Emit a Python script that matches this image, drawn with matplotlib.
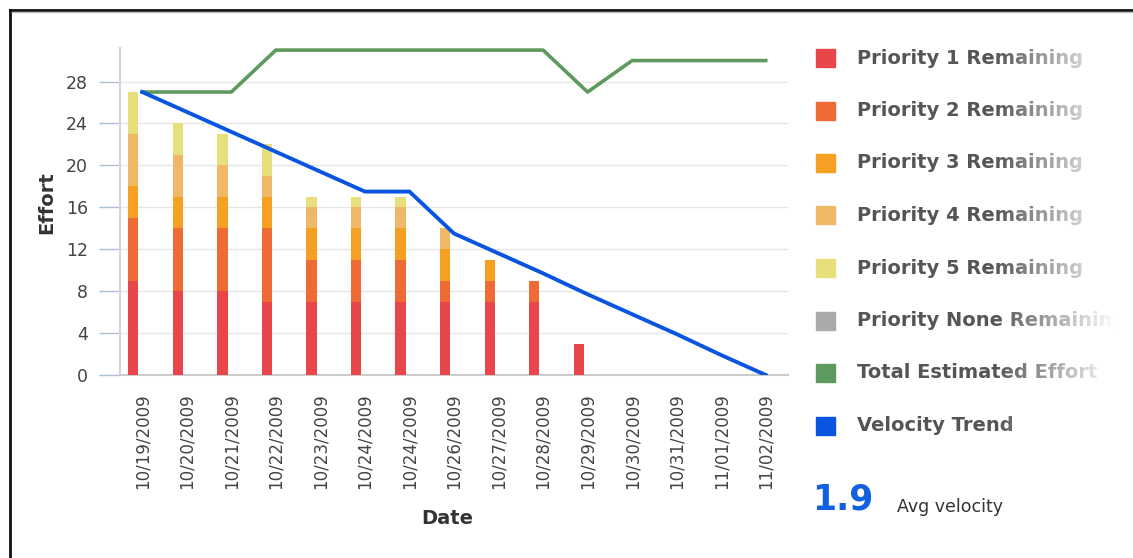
import numpy as np
import matplotlib
matplotlib.use("Agg")
import matplotlib.pyplot as plt
from matplotlib.patches import Rectangle
from matplotlib.lines import Line2D

W, H = 1133, 558

dates = ["10/19/2009", "10/20/2009", "10/21/2009", "10/22/2009", "10/23/2009",
         "10/24/2009", "10/24/2009", "10/26/2009", "10/27/2009", "10/28/2009",
         "10/29/2009", "10/30/2009", "10/31/2009", "11/01/2009", "11/02/2009"]

p1 = [9, 8, 8, 7, 7, 7, 7, 7, 7, 7, 3, 0, 0, 0, 0]
p2 = [6, 6, 6, 7, 4, 4, 4, 2, 2, 2, 0, 0, 0, 0, 0]
p3 = [3, 3, 3, 3, 3, 3, 3, 3, 2, 0, 0, 0, 0, 0, 0]
p4 = [5, 4, 3, 2, 2, 2, 2, 2, 0, 0, 0, 0, 0, 0, 0]
p5 = [4, 3, 3, 3, 1, 1, 1, 0, 0, 0, 0, 0, 0, 0, 0]
p_none = [0] * 15

total_effort = [27, 27, 27, 31, 31, 31, 31, 31, 31, 31, 27, 30, 30, 30, 30]
velocity = [27, 25.1, 23.2, 21.3, 19.4, 17.5, 17.5, 13.5, 11.6, 9.7, 7.7, 5.8, 3.9, 1.9, 0]

legend_labels = ["Priority 1 Remaining", "Priority 2 Remaining", "Priority 3 Remaining",
                 "Priority 4 Remaining", "Priority 5 Remaining", "Priority None Remaining",
                 "Total Estimated Effort", "Velocity Trend"]
colors = ["#e8464b", "#ef6b35", "#f5a023", "#eeb867", "#e6df7c", "#aaaaaa",
          "#5e9a5e", "#0a55e0"]
avg_velocity = "1.9"

fig = plt.figure(figsize=(W / 100, H / 100), dpi=100)
ax = fig.add_axes([120 / W, 1 - 375 / H, 668 / W, 327 / H])

x = np.arange(len(dates))
bottom = np.zeros(len(dates))
for vals, c in zip([p1, p2, p3, p4, p5, p_none], colors[:6]):
    ax.bar(x - 0.2, vals, width=0.23, bottom=bottom, color=c, zorder=3)
    bottom += np.array(vals)

ax.plot(x, total_effort, color=colors[6], lw=2.6, zorder=4)
ax.plot(x, velocity, color=colors[7], lw=2.8, zorder=5)

ax.set_xlim(-0.5, len(dates) - 0.5)
ax.set_ylim(0, 31.2)
ax.set_yticks(range(0, 29, 4))
ax.grid(axis="y", color="#e6e6e6", lw=1, zorder=0)

ax.set_xticks(x)
ax.set_xticklabels(dates, rotation=90, fontsize=12, color="#444444")
ax.set_xticks(np.arange(-0.5, len(dates), 1), minor=True)
ax.tick_params(axis="x", which="major", length=0, pad=13)
ax.tick_params(axis="x", which="minor", length=4, width=2, color="white", direction="inout")
ax.tick_params(axis="y", length=15, width=1, color="#a9bfdc", pad=8,
               labelsize=12.5, labelcolor="#444444")

for s in ["top", "right"]:
    ax.spines[s].set_visible(False)
ax.spines["left"].set_color("#d5d5d5")
ax.spines["bottom"].set_color("#cccccc")
ax.spines["left"].set_linewidth(1.5)
ax.spines["bottom"].set_linewidth(1.5)

fig.text(47 / W, 1 - 203 / H, "Effort", rotation=90, fontsize=14, fontweight="bold",
         color="#333333", ha="center", va="center")
fig.text(447 / W, 1 - 518 / H, "Date", fontsize=14, fontweight="bold",
         color="#333333", ha="center", va="center")

# legend
for i, (lab, c) in enumerate(zip(legend_labels, colors)):
    yc = 58 + 52.5 * i
    fig.patches.append(Rectangle((816 / W, 1 - (yc + 9) / H), 19 / W, 18 / H,
                                 transform=fig.transFigure, color=c, zorder=3))
    fig.text(857 / W, 1 - yc / H, lab, fontsize=14, fontweight="bold",
             color="#555555", ha="left", va="center")

# fade-out of the legend text on the right
fade = fig.add_axes([995 / W, 1 - 445 / H, 138 / W, 415 / H], zorder=10)
ramp = np.clip(np.linspace(0, 1, 200) * 1.15, 0, 1)
img = np.ones((2, 200, 4))
img[..., 3] = ramp
fade.imshow(img, aspect="auto", extent=(0, 1, 0, 1))
fade.axis("off")

fig.text(812 / W, 1 - 500 / H, avg_velocity, fontsize=25, fontweight="bold",
         color="#1060e0", ha="left", va="center")
fig.text(897 / W, 1 - 507 / H, "Avg velocity", fontsize=12.5, color="#333333",
         ha="left", va="center")

# frame around the chart
fig.add_artist(Line2D([10 / W, 1.0], [1 - 9.5 / H, 1 - 9.5 / H], color="#111111", lw=2,
                      transform=fig.transFigure))
fig.add_artist(Line2D([10 / W, 10 / W], [0, 1 - 9.5 / H], color="#111111", lw=2,
                      transform=fig.transFigure))
fig.add_artist(Line2D([12 / W, 1.0], [1 - 11.5 / H, 1 - 11.5 / H], color="#bbbbbb", lw=1,
                      transform=fig.transFigure))

fig.savefig("out.png", dpi=100)
